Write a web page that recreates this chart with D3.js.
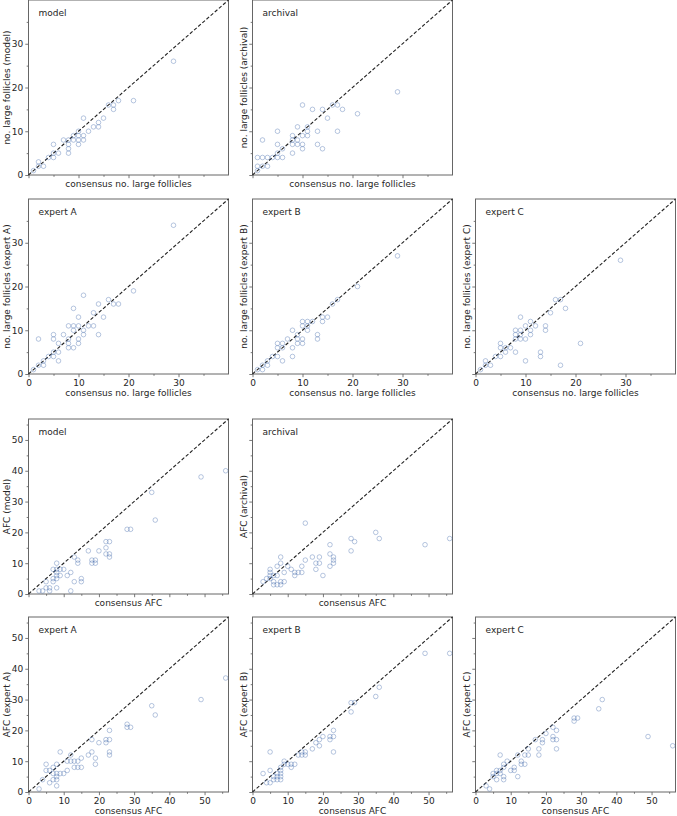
<!DOCTYPE html>
<html>
<head>
<meta charset="utf-8">
<script src="https://cdn.jsdelivr.net/npm/d3@7"></script>
<style>
  body { margin: 0; background: #fff; }
  text { font-family: "DejaVu Sans", sans-serif; font-size: 9px; fill: #262626; }
</style>
</head>
<body>
<svg id="fig" width="677" height="816"></svg>
<script>
// [consensus, rater] pairs
const follModel = [[29,26],[21,17],[18,17],[17,16],[17,15],[16,16],[15,13],[11,13],[14,12],[14,11],[13,11],[12,10],
  [11,9],[11,8],[10,9],[10,8],[10,7],[10,10],[9,8],[9,9],[8,8],[8,7],[8,6],[8,5],[7,8],[5,7],[6,5],[5,5],[5,4],
  [4,4],[3,2],[2,3],[2,2],[1,1]];
const follArchival = [[29,19],[21,14],[17,16],[18,15],[16,16],[14,15],[12,15],[10,16],[15,13],[17,10],[13,10],
  [13,7],[14,6],[11,11],[11,9],[9,11],[11,10],[10,9],[10,7],[10,6],[8,9],[8,8],[8,7],[8,5],[9,8],[9,7],[5,10],
  [5,7],[2,8],[6,6],[5,5],[5,4],[4,4],[6,4],[3,4],[2,4],[1,4],[1,2],[2,2],[3,2],[1,1]];
const follExpertA = [[29,34],[21,19],[14,16],[16,17],[17,16],[18,16],[11,18],[13,14],[12,11],[13,11],[15,13],
  [14,9],[9,15],[10,13],[8,11],[9,11],[10,11],[9,10],[11,10],[11,9],[7,9],[5,9],[5,8],[2,8],[6,7],[8,8],[8,7],
  [8,6],[9,6],[10,8],[10,7],[6,5],[5,5],[5,4],[6,3],[4,4],[3,3],[3,2],[2,2],[1,1]];
const follExpertB = [[29,27],[21,20],[17,17],[16,16],[15,13],[14,13],[14,12],[12,12],[11,12],[10,12],[10,11],
  [11,11],[11,10],[13,9],[13,8],[8,10],[9,9],[10,8],[9,8],[7,8],[9,7],[10,7],[8,6],[8,4],[5,7],[6,7],[5,6],
  [6,6],[5,4],[6,3],[4,4],[3,3],[3,2],[2,2],[2,1],[1,1]];
const follExpertC = [[29,26],[16,17],[17,17],[18,15],[15,14],[21,7],[17,2],[13,5],[13,4],[10,3],[9,13],[11,12],
  [11,10],[11,9],[12,11],[14,11],[14,10],[10,11],[10,8],[8,10],[9,10],[8,9],[9,8],[8,8],[9,9],[5,7],[5,6],
  [6,6],[7,6],[8,5],[6,5],[4,4],[5,4],[2,3],[3,2],[2,2],[1,1]];

const afcModel = [[56,40],[49,38],[35,33],[36,24],[28,21],[29,21],[22,17],[23,17],[22,15],[23,13],[23,12],
  [22,13],[20,14],[17,14],[18,11],[18,10],[19,11],[19,10],[14,11],[14,10],[13,12],[15,5],[15,4],[13,4],
  [12,7],[11,6],[12,1],[9,8],[10,8],[8,10],[8,8],[8,7],[8,6],[8,5],[8,2],[7,8],[7,5],[7,4],[9,6],[5,4],
  [5,2],[6,1],[6,2],[3,1],[4,1]];
const afcArchival = [[56,18],[49,16],[35,20],[36,18],[28,18],[29,17],[28,14],[15,23],[22,16],[22,13],[23,12],
  [23,11],[23,10],[22,9],[17,12],[19,12],[18,10],[19,10],[18,8],[20,6],[15,11],[14,9],[14,7],[13,7],[12,7],
  [12,6],[11,8],[10,9],[8,12],[8,10],[9,7],[8,4],[8,3],[7,9],[5,8],[5,7],[5,6],[5,5],[6,6],[6,4],[7,6],
  [4,5],[3,4],[9,4],[7,3],[6,3]];
const afcExpertA = [[56,37],[49,30],[35,28],[36,25],[28,22],[28,21],[29,21],[23,20],[22,17],[23,17],[22,16],
  [23,13],[23,12],[20,16],[18,17],[18,13],[17,12],[19,11],[19,9],[15,11],[14,10],[13,10],[12,12],[12,10],
  [11,10],[13,8],[14,8],[15,8],[9,13],[11,7],[10,6],[9,6],[8,9],[8,6],[8,5],[8,4],[8,2],[7,8],[7,6],[7,4],
  [5,9],[5,7],[6,7],[6,3],[4,4],[3,1]];
const afcExpertB = [[56,45],[49,45],[36,34],[35,31],[28,29],[29,29],[28,26],[23,20],[23,18],[22,18],[22,17],
  [23,13],[20,18],[18,16],[19,15],[19,17],[17,14],[14,13],[15,13],[15,12],[14,12],[13,12],[12,9],[11,9],
  [11,8],[10,9],[9,10],[9,9],[8,8],[8,7],[7,6],[7,5],[7,4],[8,6],[8,5],[8,4],[5,13],[5,7],[3,6],[4,3],
  [5,3],[6,5],[6,4]];
const afcExpertC = [[56,15],[49,18],[36,30],[35,27],[28,24],[28,23],[29,24],[23,20],[23,17],[23,14],[22,18],
  [22,17],[20,19],[19,17],[19,16],[17,17],[18,14],[18,12],[22,21],[15,14],[15,12],[14,12],[14,9],[13,9],
  [13,10],[12,12],[12,5],[11,8],[11,7],[10,7],[9,10],[8,9],[8,8],[8,5],[8,4],[7,12],[7,7],[6,7],[6,4],
  [5,6],[5,5],[6,6],[3,2],[4,1],[7,6]];

const raterNames = ["model", "archival", "expert A", "expert B", "expert C"];
const follTicks = [0, 10, 20, 30];
const afcTicks = [0, 10, 20, 30, 40, 50];
const follMax = 40;
const afcMax = 56.8;

const colX = [28.5, 252.5, 475.5];
const rowY = [0, 199, 419, 617];
const axW = 200, axH = 175;

const panels = [
  {row: 0, col: 0, who: raterNames[0], data: follModel, afc: false},
  {row: 0, col: 1, who: raterNames[1], data: follArchival, afc: false},
  {row: 1, col: 0, who: raterNames[2], data: follExpertA, afc: false},
  {row: 1, col: 1, who: raterNames[3], data: follExpertB, afc: false},
  {row: 1, col: 2, who: raterNames[4], data: follExpertC, afc: false},
  {row: 2, col: 0, who: raterNames[0], data: afcModel, afc: true},
  {row: 2, col: 1, who: raterNames[1], data: afcArchival, afc: true},
  {row: 3, col: 0, who: raterNames[2], data: afcExpertA, afc: true},
  {row: 3, col: 1, who: raterNames[3], data: afcExpertB, afc: true},
  {row: 3, col: 2, who: raterNames[4], data: afcExpertC, afc: true}
];

const svg = d3.select("#fig");

panels.forEach(function(p) {
  const max = p.afc ? afcMax : follMax;
  const major = p.afc ? afcTicks : follTicks;
  const minor = d3.range(5, max, 10);
  const x = d3.scaleLinear().domain([0, max]).range([0, axW]);
  const y = d3.scaleLinear().domain([0, max]).range([axH, 0]);
  const xLabels = p.row === 1 || p.row === 3;
  const yLabels = p.col === 0;

  const g = svg.append("g")
    .attr("transform", "translate(" + colX[p.col] + "," + rowY[p.row] + ")");

  // x axis, major + minor ticks
  g.append("g")
    .attr("transform", "translate(0," + axH + ")")
    .call(d3.axisBottom(x).tickValues(major).tickSize(3.2).tickPadding(2)
      .tickFormat(xLabels ? d3.format("d") : ""));
  g.append("g")
    .attr("transform", "translate(0," + axH + ")")
    .call(d3.axisBottom(x).tickValues(minor).tickSize(1.8).tickFormat(""));
  g.append("g")
    .call(d3.axisLeft(y).tickValues(major).tickSize(3.2).tickPadding(2)
      .tickFormat(yLabels ? d3.format("d") : ""));
  g.append("g")
    .call(d3.axisLeft(y).tickValues(minor).tickSize(1.8).tickFormat(""));

  g.selectAll(".domain").remove();
  g.selectAll(".tick line").attr("stroke", "#555").attr("stroke-width", 0.8);
  g.selectAll(".tick text").attr("fill", "#262626").style("font-size", "9px")
    .style("font-family", "DejaVu Sans, sans-serif");

  // frame
  g.append("rect")
    .attr("width", axW).attr("height", axH)
    .attr("fill", "none").attr("stroke", "#666").attr("stroke-width", 1);

  // identity line
  g.append("line")
    .attr("x1", x(0)).attr("y1", y(0))
    .attr("x2", x(max)).attr("y2", y(max))
    .attr("stroke", "#222").attr("stroke-width", 1.1)
    .attr("stroke-dasharray", "3.5,2");

  g.selectAll("circle")
    .data(p.data)
    .enter().append("circle")
    .attr("cx", function(d) { return x(d[0]); })
    .attr("cy", function(d) { return y(d[1]); })
    .attr("r", 2.3)
    .attr("fill", "none")
    .attr("stroke", "#4c72b0")
    .attr("stroke-opacity", 0.45)
    .attr("stroke-width", 0.9);

  g.append("text")
    .attr("x", 10).attr("y", 16)
    .text(p.who);

  g.append("text")
    .attr("x", axW / 2)
    .attr("y", axH + (xLabels ? 22 : 11.5))
    .attr("text-anchor", "middle")
    .text(p.afc ? "consensus AFC" : "consensus no. large follicles");

  const yTitle = p.afc ? "AFC (" + p.who + ")" : "no. large follicles (" + p.who + ")";
  g.append("text")
    .attr("transform", "translate(" + (yLabels ? -18.5 : -6) + "," + (axH / 2) + ") rotate(-90)")
    .attr("text-anchor", "middle")
    .text(yTitle);
});
</script>
</body>
</html>
